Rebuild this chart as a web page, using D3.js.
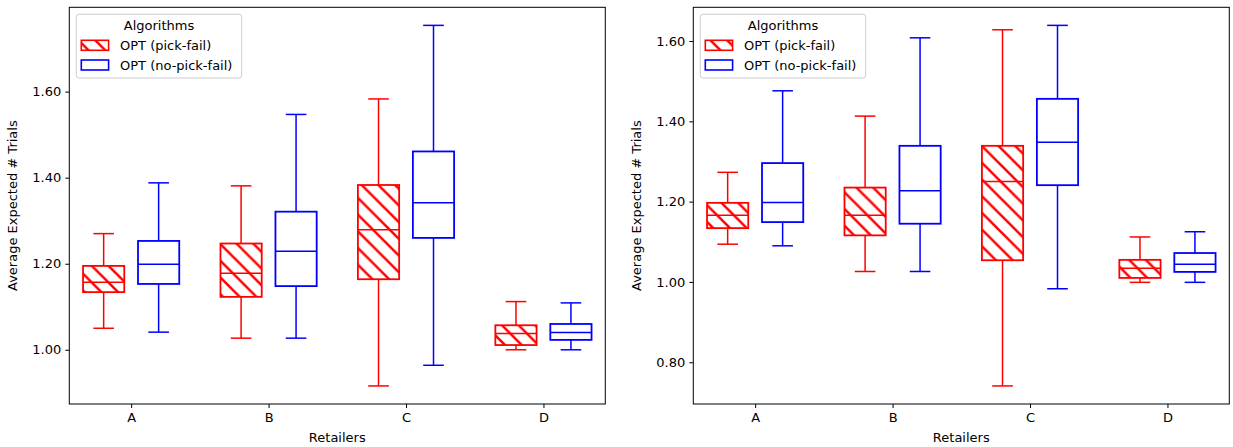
<!DOCTYPE html>
<html><head><meta charset="utf-8">
<script src="https://cdn.jsdelivr.net/npm/d3@7"></script>
<style>body{margin:0;background:#fff;} text{font-family:"DejaVu Sans",sans-serif;}</style>
</head><body>
<svg id="chart" width="1233" height="447"></svg>
<script>
const categories = ["A", "B", "C", "D"];
const seriesNames = ["OPT (pick-fail)", "OPT (no-pick-fail)"];
const legendTitle = "Algorithms";
const xLabel = "Retailers";
const yLabel = "Average Expected # Trials";
// each entry: [whiskerLow, q1, median, q3, whiskerHigh]
const leftPickFail = [
  [1.050, 1.134, 1.157, 1.195, 1.270],
  [1.027, 1.123, 1.178, 1.247, 1.381],
  [0.916, 1.164, 1.279, 1.383, 1.583],
  [1.000, 1.011, 1.038, 1.057, 1.112]
];
const leftNoPickFail = [
  [1.041, 1.153, 1.199, 1.253, 1.388],
  [1.027, 1.148, 1.229, 1.321, 1.547],
  [0.964, 1.260, 1.342, 1.461, 1.754],
  [1.000, 1.023, 1.040, 1.060, 1.109]
];
const rightPickFail = [
  [1.094, 1.134, 1.166, 1.197, 1.273],
  [1.026, 1.116, 1.166, 1.235, 1.413],
  [0.741, 1.054, 1.250, 1.339, 1.628],
  [0.999, 1.010, 1.034, 1.055, 1.112]
];
const rightNoPickFail = [
  [1.090, 1.149, 1.198, 1.296, 1.476],
  [1.026, 1.145, 1.227, 1.339, 1.608],
  [0.983, 1.241, 1.348, 1.456, 1.639],
  [0.999, 1.025, 1.044, 1.072, 1.125]
];
const leftTicks = [1.0, 1.2, 1.4, 1.6];
const rightTicks = [0.8, 1.0, 1.2, 1.4, 1.6];
const leftDomain = [0.874, 1.796];
const rightDomain = [0.696, 1.684];

const colors = ["#ff0000", "#0000ff"];
const svg = d3.select("#chart");
const defs = svg.append("defs");
function makeHatch(id, phase) {
  const s = 16.7;
  const hp = defs.append("pattern").attr("id", id).attr("patternUnits", "userSpaceOnUse")
    .attr("width", s).attr("height", s).attr("x", 0).attr("y", phase);
  hp.append("path").attr("d", `M${-s/4},${-s/4}L${s*1.25},${s*1.25}M${-s/4},${s*0.75}L${s/4},${s*1.25}M${s*0.75},${-s/4}L${s*1.25},${s/4}`)
    .attr("stroke", "#ff0000").attr("stroke-width", 2.5).attr("fill", "none");
}
makeHatch("hatchL", 7.0);
makeHatch("hatchR", 15.8);

function panel(x0, x1, domain, ticks, dataA, dataB, hatchId) {
  const y0 = 7.3, y1 = 404;
  const x = d3.scaleLinear().domain([-0.45, 3.45]).range([x0, x1]);
  const y = d3.scaleLinear().domain(domain).range([y1, y0]);
  const g = svg.append("g");
  const bw = x(0.3) - x(0);
  const offs = [-0.2, 0.2];
  [dataA, dataB].forEach((data, si) => {
    const col = colors[si];
    data.forEach((d, i) => {
      const cx = x(i + offs[si]);
      const bg = g.append("g");
      bg.append("line").attr("x1", cx).attr("x2", cx).attr("y1", y(d[0])).attr("y2", y(d[1]))
        .attr("stroke", col).attr("stroke-width", 1.5);
      bg.append("line").attr("x1", cx).attr("x2", cx).attr("y1", y(d[3])).attr("y2", y(d[4]))
        .attr("stroke", col).attr("stroke-width", 1.5);
      [d[0], d[4]].forEach(v => bg.append("line").attr("x1", cx - bw / 4).attr("x2", cx + bw / 4)
        .attr("y1", y(v)).attr("y2", y(v)).attr("stroke", col).attr("stroke-width", 1.5));
      bg.append("rect").attr("x", cx - bw / 2).attr("width", bw).attr("y", y(d[3])).attr("height", y(d[1]) - y(d[3]))
        .attr("fill", "#fff");
      if (si === 0) {
        bg.append("rect").attr("x", cx - bw / 2).attr("width", bw).attr("y", y(d[3])).attr("height", y(d[1]) - y(d[3]))
          .attr("fill", `url(#${hatchId})`);
      }
      bg.append("rect").attr("x", cx - bw / 2).attr("width", bw).attr("y", y(d[3])).attr("height", y(d[1]) - y(d[3]))
        .attr("fill", "none").attr("stroke", col).attr("stroke-width", 1.8);
      bg.append("line").attr("x1", cx - bw / 2).attr("x2", cx + bw / 2).attr("y1", y(d[2])).attr("y2", y(d[2]))
        .attr("stroke", col).attr("stroke-width", 1.5);
    });
  });
  g.append("rect").attr("x", x0).attr("y", y0).attr("width", x1 - x0).attr("height", y1 - y0)
    .attr("fill", "none").attr("stroke", "#000").attr("stroke-width", 1);
  const ya = g.append("g").attr("transform", `translate(${x0},0)`)
    .call(d3.axisLeft(y).tickValues(ticks).tickFormat(d3.format(".2f")).tickSize(4).tickPadding(4));
  const xa = g.append("g").attr("transform", `translate(0,${y1})`)
    .call(d3.axisBottom(x).tickValues([0, 1, 2, 3]).tickFormat(i => categories[i]).tickSize(4).tickPadding(5));
  [ya, xa].forEach(a => {
    a.select(".domain").remove();
    a.selectAll("text").attr("font-size", 13).attr("fill", "#000").style("font-family", "DejaVu Sans");
    a.selectAll("line").attr("stroke", "#000");
  });
  g.append("text").attr("x", (x0 + x1) / 2).attr("y", 442).attr("text-anchor", "middle")
    .attr("font-size", 13).text(xLabel);
  g.append("text").attr("transform", `translate(${x0 - 52},${(y0 + y1) / 2}) rotate(-90)`)
    .attr("text-anchor", "middle").attr("font-size", 13).text(yLabel);
  const lx = x0 + 7, ly = 14.3;
  const lg = g.append("g").attr("transform", `translate(${lx},${ly})`);
  lg.append("rect").attr("width", 165.4).attr("height", 63.7).attr("rx", 2.5)
    .attr("fill", "#fff").attr("fill-opacity", 0.8).attr("stroke", "#cccccc").attr("stroke-width", 1);
  lg.append("text").attr("x", 82.7).attr("y", 15.5).attr("text-anchor", "middle").attr("font-size", 13).text(legendTitle);
  seriesNames.forEach((n, k) => {
    const py = 26 + k * 19.7;
    lg.append("rect").attr("x", 5).attr("y", py).attr("width", 27.3).attr("height", 10).attr("fill", "#fff");
    if (k === 0) lg.append("rect").attr("x", 5).attr("y", py).attr("width", 27.3).attr("height", 10).attr("fill", `url(#${hatchId})`);
    lg.append("rect").attr("x", 5).attr("y", py).attr("width", 27.3).attr("height", 10)
      .attr("fill", "none").attr("stroke", colors[k]).attr("stroke-width", 1.6);
    lg.append("text").attr("x", 43.7).attr("y", py + 9.7).attr("font-size", 13).text(n);
  });
}
panel(69.3, 605.3, leftDomain, leftTicks, leftPickFail, leftNoPickFail, "hatchL");
panel(693.3, 1229.3, rightDomain, rightTicks, rightPickFail, rightNoPickFail, "hatchR");
</script>
</body></html>
